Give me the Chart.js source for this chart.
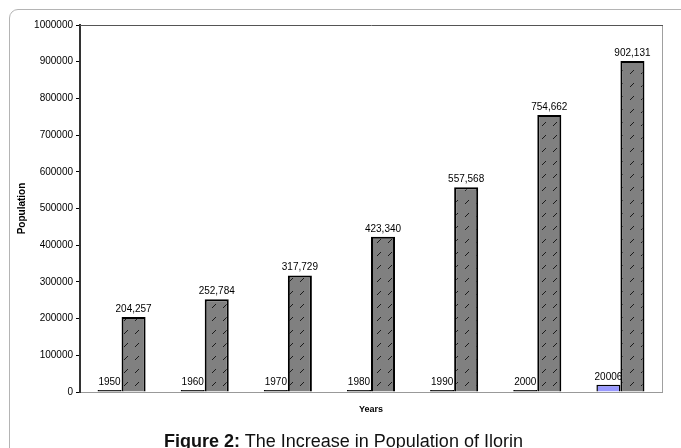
<!DOCTYPE html>
<html>
<head>
<meta charset="utf-8">
<title>The Increase in Population of Ilorin</title>
<script src="https://cdn.jsdelivr.net/npm/chart.js@4/dist/chart.umd.min.js"></script>
<style>
  html, body { margin: 0; padding: 0; background: #fff; }
  #wrap { position: relative; width: 681px; height: 448px; overflow: hidden; }
  #frame {
    position: absolute; left: 9px; top: 9px; width: 700px; height: 480px;
    border: 1px solid #b4b4b4; border-radius: 9px; box-sizing: border-box;
  }
  #chart { position: absolute; left: 0; top: 0; }
  #caption {
    position: absolute; left: 0; width: 687px; top: 432px;
    text-align: center; font-family: "Liberation Sans", Arial, sans-serif;
    font-size: 18px; line-height: 18px; color: #111; white-space: nowrap;
  }
  #caption b { font-weight: bold; }
</style>
</head>
<body>
<div id="wrap">
  <div id="frame"></div>
  <canvas id="chart" width="681" height="448"></canvas>
  <div id="caption"><b>Figure 2:</b> The Increase in Population of Ilorin</div>
</div>
<script>
// Census years and population of Ilorin
const categories = ['1950', '1960', '1970', '1980', '1990', '2000', '2006'];
const yearValues = [1950, 1960, 1970, 1980, 1990, 2000, 20006];
const populationValues = [204257, 252784, 317729, 423340, 557568, 754662, 902131];
const yTicks = [0, 100000, 200000, 300000, 400000, 500000, 600000, 700000, 800000, 900000, 1000000];

const FONT = '"Liberation Sans", Arial, sans-serif';

// Grey fill with short dashed upward diagonals
function hatchPattern() {
  const c = document.createElement('canvas');
  c.width = 11; c.height = 13;
  const g = c.getContext('2d');
  g.fillStyle = '#808080';
  g.fillRect(0, 0, 11, 13);
  g.strokeStyle = '#1a1a1a';
  g.lineWidth = 1;
  g.beginPath();
  g.moveTo(3, 9);
  g.lineTo(7, 5);
  g.stroke();
  return g.createPattern(c, 'repeat');
}

// Bars only a pixel or two tall show as their black outline
function yearFill(ctx) {
  const y = ctx.chart.scales.y;
  if (!y || ctx.raw === undefined) return '#9999ff';
  const h = y.getPixelForValue(0) - y.getPixelForValue(ctx.raw);
  return h < 3 ? '#000' : '#9999ff';
}

// Top and right edges of the plot box
const plotBox = {
  id: 'plotBox',
  beforeDatasetsDraw(chart) {
    const { ctx, chartArea: a } = chart;
    ctx.save();
    ctx.lineWidth = 1;
    ctx.strokeStyle = '#a0a0a0';
    ctx.beginPath();
    ctx.moveTo(a.right + 0.5, a.top);
    ctx.lineTo(a.right + 0.5, a.bottom);
    ctx.stroke();
    ctx.strokeStyle = '#555';
    ctx.beginPath();
    ctx.moveTo(a.left, a.top + 0.5);
    ctx.lineTo(a.right + 1, a.top + 0.5);
    ctx.stroke();
    ctx.restore();
  }
};

// Value labels above each bar
const valueLabels = {
  id: 'valueLabels',
  afterDatasetsDraw(chart) {
    const { ctx } = chart;
    ctx.save();
    ctx.font = '10px ' + FONT;
    ctx.fillStyle = '#000';
    ctx.textAlign = 'center';
    ctx.textBaseline = 'alphabetic';
    chart.data.datasets.forEach((ds, i) => {
      const meta = chart.getDatasetMeta(i);
      meta.data.forEach((bar, j) => {
        const v = ds.data[j];
        const txt = ds.useCommas ? v.toLocaleString('en-US') : String(v);
        ctx.fillText(txt, bar.x, bar.y - 5);
      });
    });
    ctx.restore();
  }
};

new Chart(document.getElementById('chart'), {
  type: 'bar',
  data: {
    labels: categories,
    datasets: [
      {
        label: 'Year',
        data: yearValues,
        backgroundColor: yearFill,
        borderColor: '#000',
        borderWidth: 1.5,
        minBarLength: 2,
        useCommas: false
      },
      {
        label: 'Population',
        data: populationValues,
        backgroundColor: hatchPattern(),
        borderColor: '#000',
        borderWidth: 2,
        useCommas: true
      }
    ]
  },
  options: {
    responsive: false,
    animation: false,
    events: [],
    layout: { padding: { left: 0, top: 25, right: 19, bottom: 0 } },
    datasets: { bar: { categoryPercentage: 0.578, barPercentage: 1 } },
    plugins: { legend: { display: false }, tooltip: { enabled: false } },
    scales: {
      x: {
        grid: { display: false },
        border: { display: true, color: '#999', width: 1 },
        ticks: { display: false },
        title: {
          display: true, text: 'Years', color: '#000',
          font: { family: FONT, size: 9, weight: 'bold' },
          padding: { top: 0, bottom: 33 }
        },
        afterFit(scale) { scale.height = 56; }
      },
      y: {
        min: 0,
        max: 1000000,
        afterBuildTicks(scale) { scale.ticks = yTicks.map(v => ({ value: v })); },
        grid: { drawOnChartArea: false, drawTicks: true, tickLength: 4, color: '#000' },
        border: { display: true, color: '#333', width: 2 },
        ticks: {
          color: '#000', padding: 3,
          font: { family: FONT, size: 10 },
          callback: v => String(v)
        },
        title: {
          display: true, text: 'Population', color: '#000',
          font: { family: FONT, size: 10, weight: 'bold' },
          padding: { top: 16, bottom: 0 }
        },
        afterFit(scale) { scale.width = 80; }
      }
    }
  },
  plugins: [plotBox, valueLabels]
});
</script>
</body>
</html>
